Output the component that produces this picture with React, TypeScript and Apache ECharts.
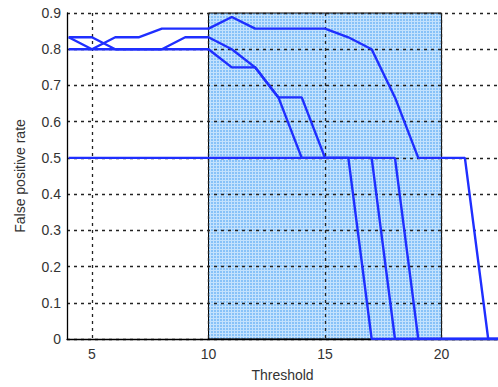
import React, { useEffect, useRef } from "react";
import * as echarts from "echarts";

const thresholds = [4, 5, 6, 7, 8, 9, 10, 11, 12, 13, 14, 15, 16, 17, 18, 19, 20, 21, 22, 23];
const seriesA = [0.833, 0.833, 0.8, 0.8, 0.8, 0.833, 0.833, 0.8, 0.75, 0.667, 0.667, 0.5, 0.5, 0.5, 0, 0, 0, 0, 0, 0];
const seriesB = [0.833, 0.8, 0.833, 0.833, 0.857, 0.857, 0.857, 0.889, 0.857, 0.857, 0.857, 0.857, 0.833, 0.8, 0.667, 0.5, 0.5, 0.5, 0, 0];
const seriesC = [0.8, 0.8, 0.8, 0.8, 0.8, 0.8, 0.8, 0.75, 0.75, 0.667, 0.5, 0.5, 0.5, 0, 0, 0, 0, 0, 0, 0];
const seriesD = [0.5, 0.5, 0.5, 0.5, 0.5, 0.5, 0.5, 0.5, 0.5, 0.5, 0.5, 0.5, 0.5, 0.5, 0.5, 0, 0, 0, 0, 0];
const xTickLabels = [5, 10, 15, 20];
const yTicks = [0, 0.1, 0.2, 0.3, 0.4, 0.5, 0.6, 0.7, 0.8, 0.9];
const regionX = [10, 20];
const regionY = [0, 0.9];

function makePattern() {
  const c = document.createElement("canvas");
  c.width = 3;
  c.height = 3;
  const ctx = c.getContext("2d");
  if (ctx) {
    ctx.fillStyle = "#88c2f8";
    ctx.fillRect(0, 0, 3, 3);
    ctx.fillStyle = "#c4e2fd";
    ctx.fillRect(0, 0, 3, 1);
    ctx.fillRect(0, 0, 1, 3);
  }
  return { image: c.toDataURL(), repeat: "repeat", imageWidth: 3, imageHeight: 3 } as any;
}

export default function App() {
  const ref = useRef<HTMLDivElement>(null);
  useEffect(() => {
    if (!ref.current) return;
    const chart = echarts.init(ref.current, null, { renderer: "svg" });
    const font = "'Liberation Sans', Arial, sans-serif";
    const lineColor = "#1f2fff";
    const mk = (arr: number[]) => thresholds.map((t, i) => [t, arr[i]]);
    const lineSeries = (name: string, arr: number[]) => ({
      type: "line",
      name,
      data: mk(arr),
      showSymbol: false,
      symbol: "none",
      lineStyle: { color: lineColor, width: 2.4 },
      z: 5,
    });
    const gridLine = { show: true, lineStyle: { color: "#222", width: 1.3, type: [3, 4] } };
    chart.setOption({
      animation: false,
      grid: { left: 67, right: 0, top: 13, bottom: 45, containLabel: false },
      xAxis: {
        type: "value",
        min: 3.93,
        max: 22.42,
        z: 3,
        name: "Threshold",
        nameLocation: "middle",
        nameGap: 29,
        nameTextStyle: { color: "#333", fontSize: 14, fontFamily: font },
        axisLine: { show: true, onZero: false, lineStyle: { color: "#000", width: 1.3 } },
        axisTick: { show: false, customValues: xTickLabels },
        axisLabel: { customValues: xTickLabels, color: "#333", fontSize: 14, fontFamily: font, margin: 8 },
        splitLine: gridLine,
      },
      yAxis: {
        type: "value",
        min: 0,
        max: 0.9,
        interval: 0.1,
        z: 3,
        name: "False positive rate",
        nameLocation: "middle",
        nameGap: 40,
        nameTextStyle: { color: "#333", fontSize: 14, fontFamily: font },
        axisLine: { show: true, lineStyle: { color: "#000", width: 1.3 } },
        axisTick: { show: false },
        axisLabel: {
          color: "#333",
          fontSize: 14,
          fontFamily: font,
          margin: 6,
          formatter: (v: number) => {
            const r = Math.round(v * 10) / 10;
            return yTicks.includes(r) ? String(r) : "";
          },
        },
        splitLine: gridLine,
      },
      series: [
        {
          type: "line",
          data: [],
          silent: true,
          z: 1,
          markArea: {
            silent: true,
            itemStyle: { color: makePattern(), borderColor: "#000", borderWidth: 1 },
            data: [[{ coord: [regionX[0], regionY[0]] }, { coord: [regionX[1], regionY[1]] }]],
          },
        },
        lineSeries("A", seriesA),
        lineSeries("B", seriesB),
        lineSeries("C", seriesC),
        lineSeries("D", seriesD),
      ],
    } as any);
    return () => chart.dispose();
  }, []);
  return <div ref={ref} style={{ width: 498, height: 387, position: "absolute", left: 0, top: 0 }} />;
}
